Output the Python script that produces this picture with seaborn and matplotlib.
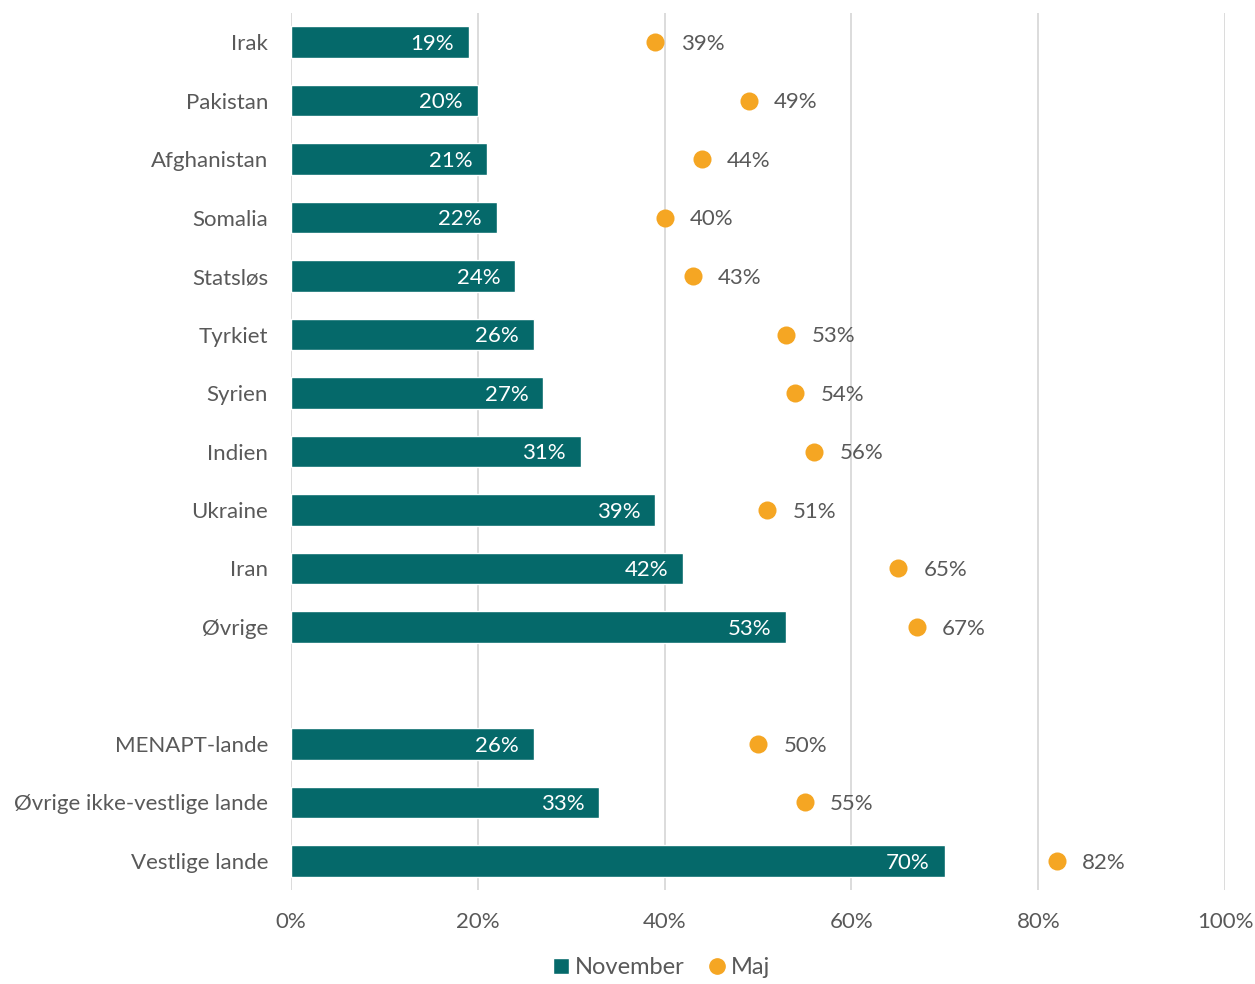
import numpy as np
import pandas as pd
import seaborn as sns
import matplotlib.pyplot as plt
from matplotlib.lines import Line2D
from matplotlib.patches import Patch

categories = ["Irak", "Pakistan", "Afghanistan", "Somalia", "Statsløs", "Tyrkiet",
              "Syrien", "Indien", "Ukraine", "Iran", "Øvrige", " ",
              "MENAPT-lande", "Øvrige ikke-vestlige lande", "Vestlige lande"]
november = [19, 20, 21, 22, 24, 26, 27, 31, 39, 42, 53, np.nan, 26, 33, 70]
maj = [39, 49, 44, 40, 43, 53, 54, 56, 51, 65, 67, np.nan, 50, 55, 82]
xticks = [0, 20, 40, 60, 80, 100]

teal = "#05696A"
orange = "#F5A623"
grey = "#595959"

sns.set_style("white")
plt.rcParams["font.family"] = ["Lato", "DejaVu Sans"]

df = pd.DataFrame({"land": categories, "November": november, "Maj": maj})

fig = plt.figure(figsize=(12.55, 9.84), dpi=100)
ax = fig.add_axes([0.2319, 0.0955, 0.7443, 0.8913])

sns.barplot(data=df, x="November", y="land", order=categories, color=teal,
            width=0.54, saturation=1, ax=ax, zorder=3)
sns.stripplot(data=df, x="Maj", y="land", order=categories, color=orange,
              jitter=False, size=13, linewidth=0, ax=ax, zorder=4)

for i, (n, m) in enumerate(zip(november, maj)):
    if np.isnan(n):
        continue
    ax.text(n - 1.6, i + 0.03, f"{n:.0f}%", color="white", fontsize=16,
            ha="right", va="center", zorder=5)
    ax.text(m + 2.7, i + 0.03, f"{m:.0f}%", color=grey, fontsize=16,
            ha="left", va="center", zorder=5)

ax.set_xlim(0, 100)
ax.set_ylim(len(categories) - 0.5, -0.5)
ax.set_xticks(xticks)
ax.set_xticklabels([f"{t}%" for t in xticks], fontsize=16, color=grey)
ax.tick_params(axis="y", labelsize=16, labelcolor=grey, length=0, pad=16.5)
ax.tick_params(axis="x", length=0, pad=16)
ax.set_xlabel("")
ax.set_ylabel("")
ax.xaxis.grid(True, color="#D9D9D9", linewidth=1.3, zorder=0)
ax.set_axisbelow(True)
for s in ax.spines.values():
    s.set_visible(False)

handles = [Patch(facecolor=teal, label="November"),
           Line2D([], [], marker="o", linestyle="", color=orange, markersize=11, label="Maj")]
fig.legend(handles=handles, loc="lower center", bbox_to_anchor=(0.527, -0.016), ncol=2,
           frameon=False, fontsize=17, labelcolor=grey, handlelength=0.7,
           handletextpad=0.25, columnspacing=1.0)

fig.savefig("out.png", dpi=100)
